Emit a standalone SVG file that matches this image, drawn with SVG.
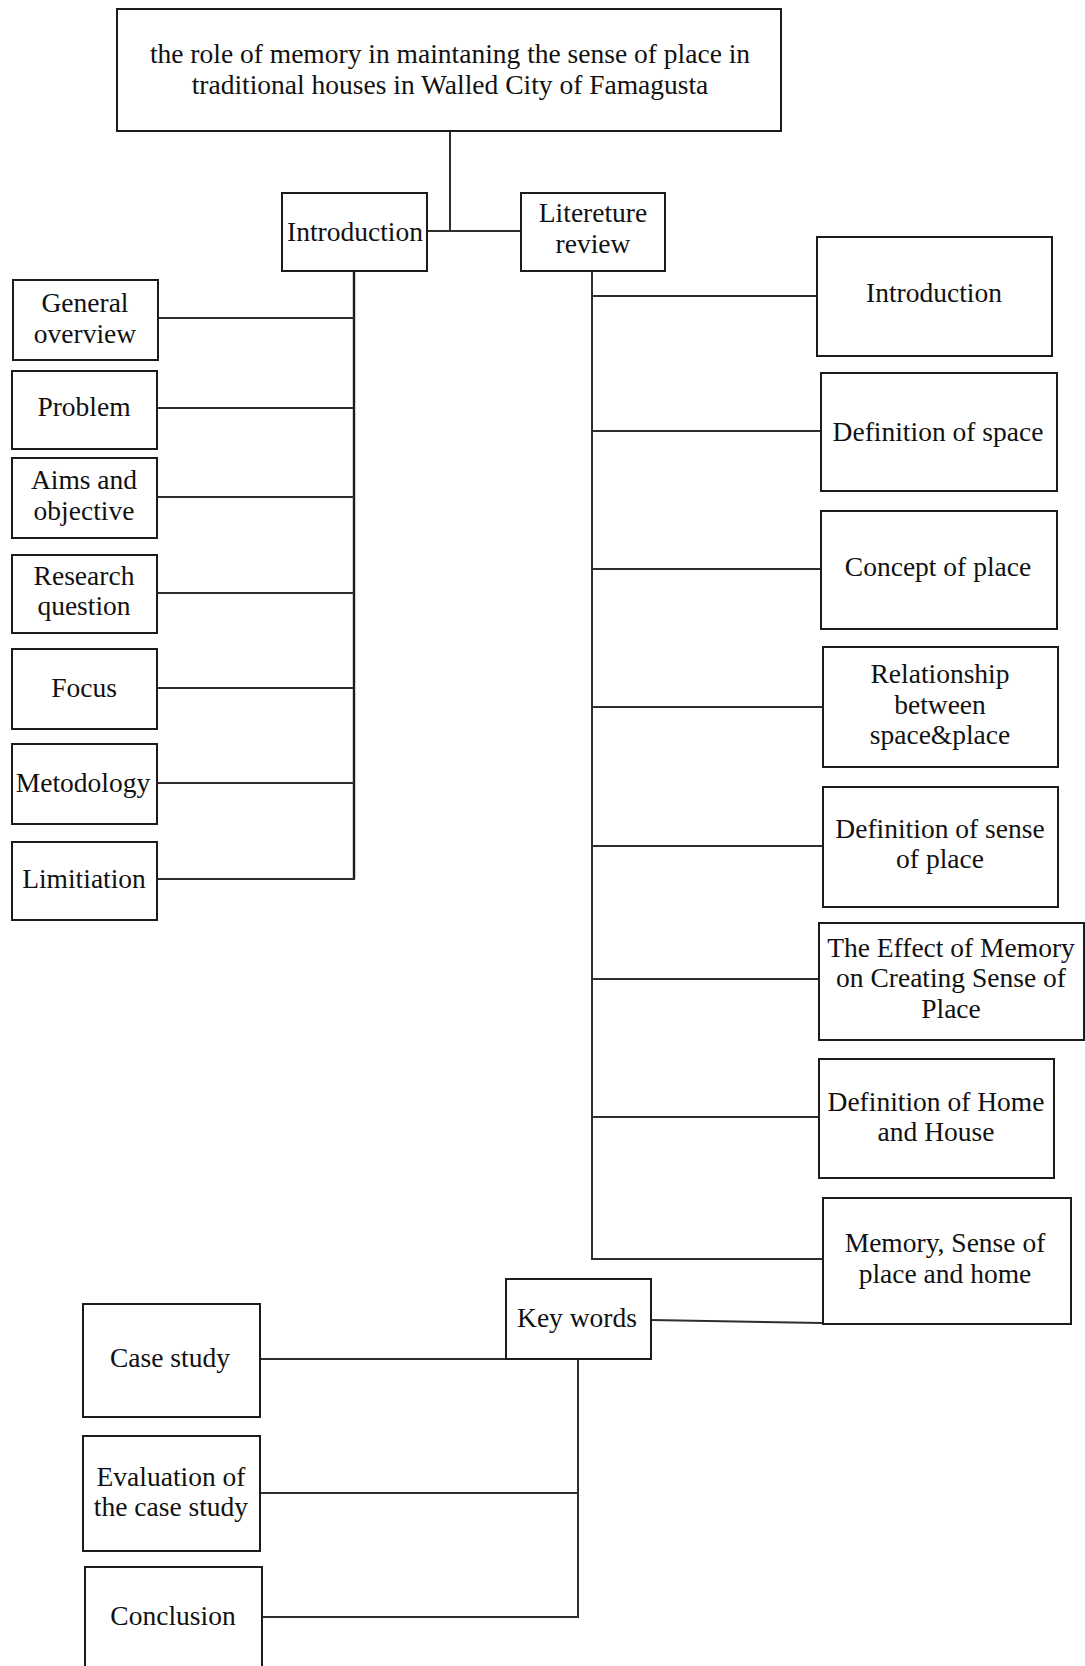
<svg xmlns="http://www.w3.org/2000/svg" width="1085" height="1666" viewBox="0 0 1085 1666">
  <style>
    .box { fill: #ffffff; stroke: #1c1c1c; stroke-width: 2; }
    .wire { fill: none; stroke: #2e2e2e; stroke-width: 2; }
    .spine { fill: none; stroke: #1c1c1c; stroke-width: 2.4; }
    text { font-family: "Liberation Serif", "Times New Roman", serif; font-size: 27.5px; fill: #111111; text-anchor: middle; }
  </style>
  <rect width="1085" height="1666" fill="#ffffff"/>

  <!-- connectors -->
  <g id="connectors">
    <!-- title to the two main branches -->
    <polyline class="wire" points="450,131 450,231"/>
    <line class="wire" x1="427" y1="231" x2="521" y2="231"/>
    <!-- introduction branch -->
    <polyline class="spine" points="354,271 354,879"/>
    <line class="wire" x1="158" y1="318" x2="354" y2="318"/>
    <line class="wire" x1="157" y1="408" x2="354" y2="408"/>
    <line class="wire" x1="157" y1="497" x2="354" y2="497"/>
    <line class="wire" x1="157" y1="593" x2="354" y2="593"/>
    <line class="wire" x1="157" y1="688" x2="354" y2="688"/>
    <line class="wire" x1="157" y1="783" x2="354" y2="783"/>
    <line class="wire" x1="157" y1="879" x2="355" y2="879"/>
    <!-- literature review branch -->
    <polyline class="wire" points="592,272 592,1259 823,1259"/>
    <line class="wire" x1="592" y1="296" x2="817" y2="296"/>
    <line class="wire" x1="592" y1="431" x2="821" y2="431"/>
    <line class="wire" x1="592" y1="569" x2="821" y2="569"/>
    <line class="wire" x1="592" y1="707" x2="823" y2="707"/>
    <line class="wire" x1="592" y1="846" x2="823" y2="846"/>
    <line class="wire" x1="592" y1="979" x2="819" y2="979"/>
    <line class="wire" x1="592" y1="1117" x2="819" y2="1117"/>
    <!-- key words branch -->
    <line class="wire" x1="651" y1="1320" x2="823" y2="1323"/>
    <line class="wire" x1="260" y1="1359" x2="506" y2="1359"/>
    <polyline class="wire" points="578,1359 578,1617 262,1617"/>
    <line class="wire" x1="260" y1="1493" x2="578" y2="1493"/>
  </g>

  <!-- title -->
  <g id="title">
    <rect class="box" x="117" y="9" width="664" height="122"/>
    <text x="450" y="63">the role of memory in maintaning the sense of place in</text>
    <text x="450" y="94">traditional houses in Walled City of Famagusta</text>
  </g>

  <!-- main branches -->
  <g id="introduction">
    <rect class="box" x="282" y="193" width="145" height="78"/>
    <text x="355" y="241">Introduction</text>
  </g>
  <g id="literature-review">
    <rect class="box" x="521" y="193" width="144" height="78"/>
    <text x="593" y="222">Litereture</text>
    <text x="593" y="253">review</text>
  </g>

  <!-- introduction sub-topics -->
  <g id="general-overview">
    <rect class="box" x="13" y="280" width="145" height="80"/>
    <text x="85" y="312">General</text>
    <text x="85" y="343">overview</text>
  </g>
  <g id="problem">
    <rect class="box" x="12" y="371" width="145" height="78"/>
    <text x="84" y="416">Problem</text>
  </g>
  <g id="aims">
    <rect class="box" x="12" y="458" width="145" height="80"/>
    <text x="84" y="489">Aims and</text>
    <text x="84" y="520">objective</text>
  </g>
  <g id="research-question">
    <rect class="box" x="12" y="555" width="145" height="78"/>
    <text x="84" y="585">Research</text>
    <text x="84" y="615">question</text>
  </g>
  <g id="focus">
    <rect class="box" x="12" y="649" width="145" height="80"/>
    <text x="84" y="697">Focus</text>
  </g>
  <g id="methodology">
    <rect class="box" x="12" y="744" width="145" height="80"/>
    <text x="83" y="792">Metodology</text>
  </g>
  <g id="limitation">
    <rect class="box" x="12" y="842" width="145" height="78"/>
    <text x="84" y="888">Limitiation</text>
  </g>

  <!-- literature review sub-topics -->
  <g id="lr-introduction">
    <rect class="box" x="817" y="237" width="235" height="119"/>
    <text x="934" y="302">Introduction</text>
  </g>
  <g id="definition-space">
    <rect class="box" x="821" y="373" width="236" height="118"/>
    <text x="938" y="441">Definition of space</text>
  </g>
  <g id="concept-place">
    <rect class="box" x="821" y="511" width="236" height="118"/>
    <text x="938" y="576">Concept of place</text>
  </g>
  <g id="relationship">
    <rect class="box" x="823" y="647" width="235" height="120"/>
    <text x="940" y="683">Relationship</text>
    <text x="940" y="714">between</text>
    <text x="940" y="744">space&amp;place</text>
  </g>
  <g id="definition-sense">
    <rect class="box" x="823" y="787" width="235" height="120"/>
    <text x="940" y="838">Definition of sense</text>
    <text x="940" y="868">of place</text>
  </g>
  <g id="effect-memory">
    <rect class="box" x="819" y="923" width="265" height="117"/>
    <text x="951" y="957">The Effect of Memory</text>
    <text x="951" y="987">on Creating Sense of</text>
    <text x="951" y="1018">Place</text>
  </g>
  <g id="home-house">
    <rect class="box" x="819" y="1059" width="235" height="119"/>
    <text x="936" y="1111">Definition of Home</text>
    <text x="936" y="1141">and House</text>
  </g>
  <g id="memory-home">
    <rect class="box" x="823" y="1198" width="248" height="126"/>
    <text x="945" y="1252">Memory, Sense of</text>
    <text x="945" y="1283">place and home</text>
  </g>

  <!-- key words and closing chapters -->
  <g id="key-words">
    <rect class="box" x="506" y="1279" width="145" height="80"/>
    <text x="577" y="1327">Key words</text>
  </g>
  <g id="case-study">
    <rect class="box" x="83" y="1304" width="177" height="113"/>
    <text x="170" y="1367">Case study</text>
  </g>
  <g id="evaluation">
    <rect class="box" x="83" y="1436" width="177" height="115"/>
    <text x="171" y="1486">Evaluation of</text>
    <text x="171" y="1516">the case study</text>
  </g>
  <g id="conclusion">
    <rect class="box" x="85" y="1567" width="177" height="110"/>
    <text x="173" y="1625">Conclusion</text>
  </g>
</svg>
